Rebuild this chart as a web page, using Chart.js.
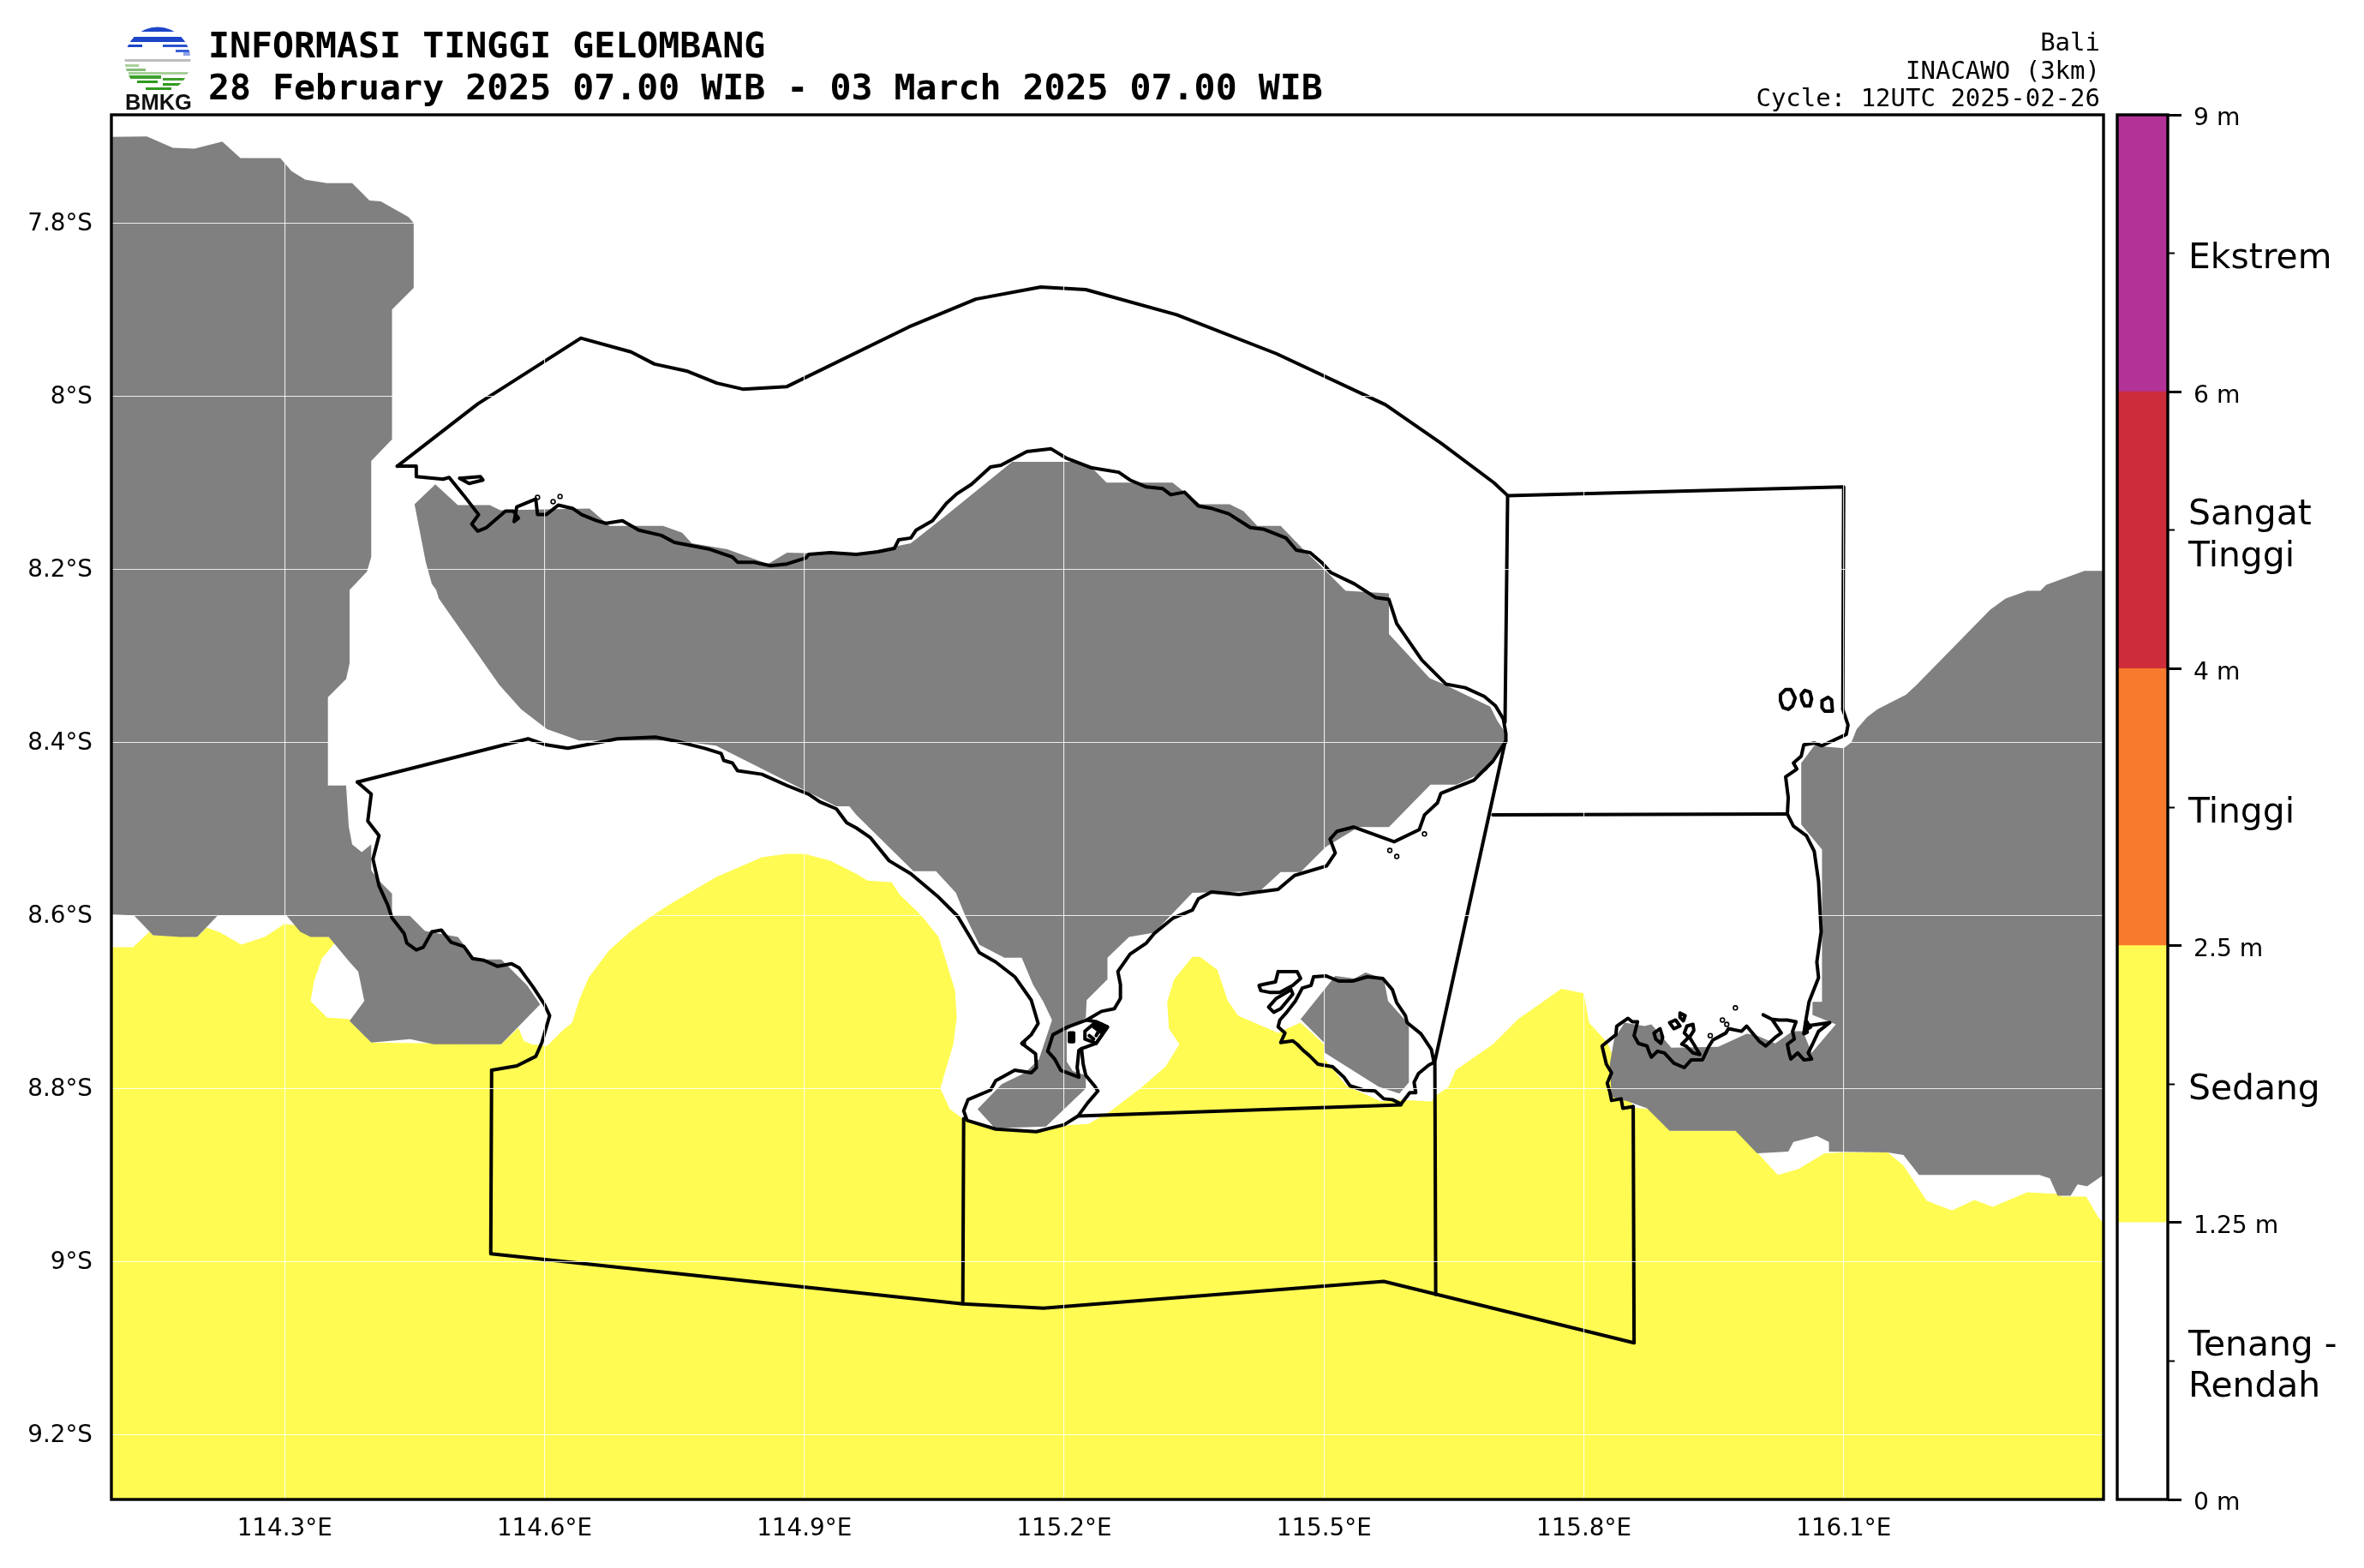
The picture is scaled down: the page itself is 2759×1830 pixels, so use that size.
<!DOCTYPE html>
<html>
<head>
<meta charset="utf-8">
<title>Informasi Tinggi Gelombang</title>
<script src="https://cdn.jsdelivr.net/npm/chart.js@4/dist/chart.umd.min.js"></script>
<style>
    html, body { margin: 0; padding: 0; background: #fff; }
    body { position: relative; width: 2759px; height: 1830px; overflow: hidden; }
    canvas { position: absolute; top: 0; }
    #mapChart { left: 0; }
    #scaleChart { left: 2459px; }
    .title { position: absolute; left: 243px; font: bold 41.55px "DejaVu Sans Mono", monospace; line-height: 48px; white-space: pre; color: #000; }
    .info { position: absolute; right: 308px; font: 29px "DejaVu Sans Mono", monospace; line-height: 32px; white-space: pre; color: #000; text-align: right; }
    #logo { position: absolute; left: 140px; top: 26px; }
</style>
</head>
<body>
<canvas id="mapChart" width="2759" height="1830"></canvas>
<canvas id="scaleChart" width="300" height="1830"></canvas>

<svg id="logo" width="90" height="106" viewBox="140 26 90 106">
    <defs><clipPath id="disc"><circle cx="184" cy="70" r="38.5"></circle></clipPath></defs>
    <g clip-path="url(#disc)">
        <rect x="140" y="31" width="90" height="6" fill="#1c45c8"></rect>
        <rect x="140" y="43" width="90" height="6" fill="#1c45c8"></rect>
        <rect x="148" y="52" width="18" height="3" fill="#1c45c8"></rect>
        <rect x="190" y="52" width="40" height="3" fill="#2a55d0"></rect>
        <rect x="205" y="58" width="20" height="3" fill="#3a62d8"></rect>
        <rect x="214" y="61" width="12" height="4" fill="#8fa3ea"></rect>
        <rect x="140" y="69" width="90" height="3" fill="#bdbdbd"></rect>
        <rect x="140" y="75" width="22" height="3" fill="#a9cf9c"></rect>
        <rect x="140" y="80" width="30" height="3" fill="#86bd78"></rect>
        <rect x="150" y="84" width="70" height="3" fill="#a9cf9c"></rect>
        <rect x="150" y="88" width="38" height="4" fill="#3ea02c"></rect>
        <rect x="190" y="91" width="30" height="3" fill="#3ea02c"></rect>
        <rect x="160" y="94" width="24" height="3" fill="#2f9a1e"></rect>
        <rect x="190" y="97" width="24" height="3" fill="#2f9a1e"></rect>
        <rect x="170" y="102" width="30" height="3" fill="#2f9a1e"></rect>
    </g>
    <text x="146" y="128" font-family="Liberation Sans, Arial, sans-serif" font-weight="bold" font-size="25.5" fill="#111">BMKG</text>
</svg>

<div class="title" style="top: 29px;">INFORMASI TINGGI GELOMBANG</div>
<div class="title" style="top: 78px;">28 February 2025 07.00 WIB - 03 March 2025 07.00 WIB</div>
<div class="info" style="top: 33px;">Bali</div>
<div class="info" style="top: 66px;">INACAWO (3km)</div>
<div class="info" style="top: 98px;">Cycle: 12UTC 2025-02-26</div>

<script>
// every pair below is [longitude in °E, latitude in °S]
const lonTicks = [114.3, 114.6, 114.9, 115.2, 115.5, 115.8, 116.1];
const latTicks = [7.8, 8, 8.2, 8.4, 8.6, 8.8, 9, 9.2];

const javaLand = [
    [114.1, 7.7005], [114.141, 7.7], [114.171, 7.713], [114.196, 7.714], [114.228, 7.706], [114.249, 7.725],
    [114.295, 7.725], [114.308, 7.74], [114.324, 7.75], [114.349, 7.754], [114.378, 7.754], [114.398, 7.774],
    [114.411, 7.775], [114.443, 7.793], [114.449, 7.8], [114.449, 7.875], [114.424, 7.9], [114.424, 8.05],
    [114.4, 8.075], [114.4, 8.186], [114.395, 8.203], [114.375, 8.224], [114.375, 8.309], [114.371, 8.327],
    [114.35, 8.348], [114.35, 8.45], [114.371, 8.45], [114.374, 8.497], [114.378, 8.518], [114.389, 8.527],
    [114.4, 8.518], [114.4, 8.548], [114.409, 8.56], [114.424, 8.575], [114.424, 8.6], [114.444, 8.6],
    [114.462, 8.618], [114.5, 8.625], [114.52, 8.651], [114.55, 8.651], [114.58, 8.681], [114.595, 8.703],
    [114.55, 8.749], [114.472, 8.749], [114.445, 8.743], [114.4, 8.747], [114.375, 8.722], [114.392, 8.699],
    [114.385, 8.665], [114.375, 8.654], [114.351, 8.625], [114.33, 8.625], [114.318, 8.619], [114.302, 8.6],
    [114.223, 8.6], [114.199, 8.625], [114.179, 8.625], [114.148, 8.623], [114.126, 8.6], [114.1, 8.599]
];

const baliLand = [
    [114.45, 8.125], [114.474, 8.102], [114.5, 8.126], [114.537, 8.126], [114.549, 8.132], [114.652, 8.13],
    [114.675, 8.15], [114.737, 8.15], [114.759, 8.158], [114.77, 8.17], [114.811, 8.177], [114.858, 8.194],
    [114.88, 8.181], [114.96, 8.183], [115.023, 8.17], [115.061, 8.14], [115.14, 8.076], [115.216, 8.076],
    [115.235, 8.086], [115.249, 8.1], [115.325, 8.1], [115.357, 8.125], [115.391, 8.125], [115.407, 8.133],
    [115.423, 8.15], [115.45, 8.15], [115.476, 8.177], [115.5, 8.2], [115.525, 8.225], [115.575, 8.228],
    [115.575, 8.275], [115.622, 8.326], [115.638, 8.333], [115.692, 8.359], [115.7, 8.375], [115.71, 8.39],
    [115.71, 8.4], [115.7, 8.413], [115.688, 8.433], [115.653, 8.449], [115.623, 8.449], [115.575, 8.498],
    [115.54, 8.498], [115.502, 8.521], [115.473, 8.55], [115.45, 8.55], [115.426, 8.572], [115.348, 8.574],
    [115.304, 8.62], [115.275, 8.625], [115.25, 8.649], [115.25, 8.674], [115.226, 8.698], [115.225, 8.718],
    [115.203, 8.733], [115.203, 8.769], [115.21, 8.78], [115.225, 8.785], [115.225, 8.8], [115.179, 8.844],
    [115.12, 8.846], [115.1, 8.824], [115.128, 8.795], [115.155, 8.782], [115.171, 8.766], [115.186, 8.721],
    [115.176, 8.7], [115.164, 8.68], [115.151, 8.649], [115.131, 8.649], [115.102, 8.634], [115.086, 8.601],
    [115.075, 8.574], [115.052, 8.549], [115.026, 8.549], [114.96, 8.484], [114.952, 8.474], [114.937, 8.474],
    [114.798, 8.404], [114.75, 8.398], [114.64, 8.398], [114.603, 8.385], [114.573, 8.362], [114.548, 8.334],
    [114.478, 8.234], [114.475, 8.224], [114.47, 8.217], [114.463, 8.192]
];

const penidaLand = [
    [115.473, 8.72], [115.513, 8.67], [115.535, 8.673], [115.548, 8.666], [115.569, 8.673], [115.574, 8.699],
    [115.598, 8.726], [115.598, 8.793], [115.587, 8.806], [115.563, 8.798], [115.501, 8.759], [115.5, 8.747]
];

const lombokLand = [
    [116.4, 8.202], [116.378, 8.202], [116.334, 8.218], [116.327, 8.225], [116.312, 8.225], [116.287, 8.234],
    [116.269, 8.247], [116.184, 8.334], [116.172, 8.345], [116.139, 8.362], [116.127, 8.371], [116.115, 8.385],
    [116.109, 8.4], [116.1, 8.407], [116.066, 8.404], [116.051, 8.424], [116.051, 8.495], [116.075, 8.524],
    [116.075, 8.7], [116.064, 8.7], [116.064, 8.715], [116.091, 8.726], [116.063, 8.759], [116.053, 8.734],
    [116.041, 8.734], [116.021, 8.748], [115.998, 8.738], [115.988, 8.737], [115.955, 8.752], [115.901, 8.753],
    [115.878, 8.726], [115.87, 8.728], [115.847, 8.724], [115.835, 8.743], [115.83, 8.772], [115.832, 8.81],
    [115.851, 8.815], [115.873, 8.823], [115.899, 8.849], [115.975, 8.849], [116.0, 8.875], [116.036, 8.873],
    [116.042, 8.862], [116.069, 8.855], [116.083, 8.862], [116.083, 8.873], [116.151, 8.874], [116.169, 8.877],
    [116.187, 8.9], [116.326, 8.9], [116.338, 8.904], [116.347, 8.924], [116.362, 8.924], [116.37, 8.911],
    [116.381, 8.913], [116.4, 8.9]
];

const mediumWaves = [
    [114.1, 8.637], [114.125, 8.637], [114.144, 8.619], [114.148, 8.623], [114.199, 8.625], [114.21, 8.614],
    [114.226, 8.62], [114.25, 8.634], [114.277, 8.625], [114.3, 8.61], [114.315, 8.612], [114.33, 8.623],
    [114.351, 8.625], [114.358, 8.632], [114.343, 8.65], [114.334, 8.676], [114.33, 8.699], [114.349, 8.718],
    [114.375, 8.72], [114.4, 8.747], [114.55, 8.749], [114.57, 8.73], [114.576, 8.745], [114.585, 8.749],
    [114.603, 8.751], [114.62, 8.734], [114.632, 8.724], [114.64, 8.698], [114.651, 8.672], [114.675, 8.64],
    [114.7, 8.618], [114.725, 8.6], [114.747, 8.586], [114.798, 8.556], [114.851, 8.533], [114.88, 8.529],
    [114.9, 8.529], [114.93, 8.537], [114.96, 8.552], [114.973, 8.56], [115.001, 8.562], [115.01, 8.576],
    [115.035, 8.6], [115.055, 8.625], [115.064, 8.654], [115.074, 8.687], [115.076, 8.718], [115.072, 8.749],
    [115.064, 8.776], [115.057, 8.8], [115.068, 8.824], [115.083, 8.835], [115.12, 8.848], [115.168, 8.849],
    [115.181, 8.845], [115.21, 8.842], [115.228, 8.841], [115.254, 8.826], [115.288, 8.8], [115.317, 8.775],
    [115.333, 8.749], [115.321, 8.731], [115.319, 8.7], [115.327, 8.674], [115.348, 8.648], [115.357, 8.648],
    [115.377, 8.663], [115.389, 8.699], [115.401, 8.716], [115.447, 8.736], [115.455, 8.732], [115.473, 8.724],
    [115.5, 8.749], [115.5, 8.765], [115.526, 8.797], [115.566, 8.815], [115.586, 8.813], [115.624, 8.815],
    [115.63, 8.808], [115.644, 8.798], [115.652, 8.779], [115.695, 8.749], [115.724, 8.72], [115.774, 8.685],
    [115.8, 8.69], [115.806, 8.724], [115.827, 8.747], [115.85, 8.8], [115.857, 8.822], [115.875, 8.824],
    [115.9, 8.849], [115.977, 8.849], [116.024, 8.9], [116.048, 8.893], [116.078, 8.875], [116.1, 8.874],
    [116.151, 8.874], [116.169, 8.889], [116.196, 8.93], [116.225, 8.941], [116.251, 8.929], [116.272, 8.937],
    [116.312, 8.92], [116.347, 8.922], [116.352, 8.925], [116.362, 8.925], [116.38, 8.925], [116.394, 8.949],
    [116.4, 8.956], [116.4, 9.275], [114.1, 9.275]
];

const northZone = [
    [114.43, 8.081], [114.523, 8.009], [114.642, 7.933], [114.7, 7.949], [114.727, 7.963], [114.764, 7.971],
    [114.799, 7.985], [114.829, 7.992], [114.88, 7.989], [115.021, 7.92], [115.098, 7.888], [115.173, 7.874],
    [115.225, 7.877], [115.33, 7.906], [115.445, 7.951], [115.571, 8.01], [115.636, 8.055], [115.696, 8.1],
    [115.712, 8.115], [116.1, 8.105], [116.099, 8.362]
];

const northCoast = [
    [114.43, 8.081], [114.452, 8.081], [114.452, 8.093], [114.483, 8.096], [114.49, 8.094], [114.507, 8.115],
    [114.524, 8.137], [114.516, 8.148], [114.523, 8.156], [114.533, 8.152], [114.555, 8.133], [114.564, 8.133],
    [114.57, 8.141], [114.565, 8.145], [114.568, 8.128], [114.59, 8.119], [114.592, 8.137], [114.602, 8.137],
    [114.616, 8.126], [114.633, 8.13], [114.643, 8.137], [114.66, 8.144], [114.671, 8.147], [114.69, 8.144],
    [114.709, 8.155], [114.735, 8.161], [114.75, 8.169], [114.791, 8.177], [114.817, 8.186], [114.823, 8.192],
    [114.842, 8.192], [114.861, 8.196], [114.88, 8.194], [114.902, 8.187], [114.905, 8.183], [114.93, 8.181],
    [114.96, 8.183], [114.985, 8.18], [115.004, 8.176], [115.009, 8.166], [115.023, 8.164], [115.029, 8.155],
    [115.048, 8.144], [115.064, 8.124], [115.076, 8.113], [115.093, 8.102], [115.115, 8.082], [115.127, 8.08],
    [115.157, 8.064], [115.185, 8.061], [115.203, 8.072], [115.232, 8.083], [115.263, 8.088], [115.276, 8.097],
    [115.295, 8.105], [115.314, 8.107], [115.323, 8.114], [115.339, 8.111], [115.355, 8.127], [115.371, 8.13],
    [115.39, 8.136], [115.415, 8.152], [115.431, 8.154], [115.456, 8.164], [115.468, 8.178], [115.484, 8.181],
    [115.497, 8.192], [115.508, 8.204], [115.535, 8.217], [115.56, 8.233], [115.575, 8.235], [115.584, 8.263],
    [115.613, 8.305], [115.641, 8.333], [115.663, 8.337], [115.685, 8.347], [115.698, 8.358], [115.707, 8.373],
    [115.71, 8.39], [115.71, 8.4]
];

const eastCoastBali = [
    [115.709, 8.4], [115.695, 8.422], [115.673, 8.444], [115.635, 8.459], [115.631, 8.47], [115.616, 8.484],
    [115.61, 8.501], [115.581, 8.515], [115.534, 8.498], [115.515, 8.503], [115.507, 8.512], [115.513, 8.528],
    [115.503, 8.543], [115.466, 8.554], [115.447, 8.57], [115.402, 8.576], [115.37, 8.573], [115.355, 8.581],
    [115.348, 8.594], [115.326, 8.603], [115.304, 8.621], [115.295, 8.632], [115.276, 8.645], [115.262, 8.665],
    [115.265, 8.68], [115.265, 8.696], [115.258, 8.708], [115.243, 8.711], [115.226, 8.721], [115.237, 8.723],
    [115.25, 8.729], [115.237, 8.748], [115.22, 8.754], [115.222, 8.772], [115.225, 8.785], [115.235, 8.797],
    [115.239, 8.803], [115.227, 8.817], [115.216, 8.832], [115.2, 8.842], [115.168, 8.85], [115.121, 8.847],
    [115.088, 8.837], [115.084, 8.826], [115.089, 8.813], [115.115, 8.802], [115.121, 8.791], [115.143, 8.779],
    [115.162, 8.782], [115.168, 8.776], [115.167, 8.76], [115.151, 8.748], [115.162, 8.738], [115.17, 8.725],
    [115.162, 8.698], [115.143, 8.671], [115.121, 8.654], [115.102, 8.643], [115.089, 8.621], [115.077, 8.601],
    [115.055, 8.579], [115.023, 8.552], [114.998, 8.537], [114.976, 8.51], [114.96, 8.499], [114.949, 8.493],
    [114.937, 8.477], [114.918, 8.469], [114.905, 8.46], [114.88, 8.45], [114.851, 8.437], [114.823, 8.433],
    [114.817, 8.424], [114.807, 8.421], [114.804, 8.413], [114.785, 8.407], [114.753, 8.399], [114.728, 8.394],
    [114.684, 8.396], [114.659, 8.401], [114.627, 8.407], [114.602, 8.403], [114.581, 8.396], [114.384, 8.446]
];

const benoaBay = [
    [115.226, 8.721], [115.204, 8.729], [115.187, 8.738], [115.181, 8.757], [115.189, 8.766], [115.196, 8.779],
    [115.217, 8.787], [115.215, 8.776], [115.217, 8.756], [115.22, 8.754]
];
const benoaFlatA = [[115.224, 8.734], [115.237, 8.723], [115.25, 8.729], [115.237, 8.748], [115.224, 8.743], [115.224, 8.734]];
const benoaFlatB = [[115.244, 8.726], [115.237, 8.739]];
const benoaFlatC = [[115.229, 8.739], [115.234, 8.743]];
const benoaFlatD = [[115.206, 8.736], [115.211, 8.736], [115.211, 8.746], [115.206, 8.746], [115.206, 8.736]];
const benoaMud = [[115.237, 8.723], [115.25, 8.729], [115.243, 8.738], [115.232, 8.73]];
const lombokMud = [[116.054, 8.737], [116.058, 8.72], [116.064, 8.73]];

const javaCoast = [
    [114.384, 8.446], [114.4, 8.46], [114.396, 8.491], [114.409, 8.508], [114.402, 8.535], [114.409, 8.566],
    [114.419, 8.588], [114.424, 8.603], [114.438, 8.621], [114.441, 8.632], [114.452, 8.64], [114.46, 8.637],
    [114.47, 8.619], [114.481, 8.617], [114.492, 8.631], [114.507, 8.636], [114.517, 8.65], [114.53, 8.652],
    [114.546, 8.659], [114.562, 8.656], [114.571, 8.661], [114.587, 8.683], [114.6, 8.703], [114.606, 8.716],
    [114.597, 8.747], [114.59, 8.763], [114.568, 8.774], [114.539, 8.779]
];

const southZone = [
    [114.539, 8.779], [114.538, 8.991], [115.083, 9.049], [115.176, 9.054], [115.569, 9.023], [115.858, 9.094],
    [115.857, 8.821]
];

const centreZone = [[115.084, 8.835], [115.083, 9.049]];
const eastDivide = [[115.629, 9.038], [115.628, 8.769], [115.709, 8.4]];
const baliShelf = [[115.216, 8.832], [115.589, 8.819]];
const straitDivide = [[115.695, 8.484], [116.035, 8.483]];
const baliEastDivide = [[115.712, 8.115], [115.709, 8.377]];

const lombokCoast = [
    [116.099, 8.362], [116.105, 8.38], [116.103, 8.391], [116.075, 8.404], [116.066, 8.401], [116.054, 8.403],
    [116.051, 8.416], [116.042, 8.424], [116.046, 8.431], [116.033, 8.44], [116.036, 8.464], [116.035, 8.483],
    [116.042, 8.497], [116.057, 8.508], [116.066, 8.526], [116.071, 8.561], [116.074, 8.619], [116.069, 8.654],
    [116.071, 8.672], [116.06, 8.7], [116.056, 8.723], [116.054, 8.737], [116.058, 8.735], [116.056, 8.728],
    [116.084, 8.724], [116.071, 8.734], [116.064, 8.749], [116.059, 8.759], [116.063, 8.766], [116.054, 8.767],
    [116.047, 8.759], [116.039, 8.766], [116.037, 8.759], [116.035, 8.749], [116.043, 8.743], [116.041, 8.734],
    [116.045, 8.723], [116.035, 8.721], [116.025, 8.721], [116.017, 8.72], [116.007, 8.715], [116.017, 8.72],
    [116.028, 8.736], [116.021, 8.741], [116.01, 8.751], [116.003, 8.746], [115.988, 8.728], [115.982, 8.734],
    [115.967, 8.731], [115.964, 8.736], [115.949, 8.744], [115.944, 8.752], [115.937, 8.767], [115.924, 8.767],
    [115.916, 8.776], [115.904, 8.771], [115.893, 8.759], [115.885, 8.757], [115.878, 8.764], [115.875, 8.757],
    [115.873, 8.751], [115.863, 8.748], [115.858, 8.739], [115.862, 8.723], [115.856, 8.723], [115.851, 8.719],
    [115.838, 8.728], [115.837, 8.738], [115.821, 8.751], [115.826, 8.772], [115.832, 8.782], [115.827, 8.794],
    [115.83, 8.804], [115.832, 8.814], [115.843, 8.812], [115.845, 8.823], [115.857, 8.821]
];

const penidaCoast = [
    [115.488, 8.671], [115.502, 8.67], [115.517, 8.676], [115.533, 8.676], [115.55, 8.671], [115.568, 8.673],
    [115.579, 8.686], [115.584, 8.701], [115.594, 8.716], [115.596, 8.724], [115.612, 8.737], [115.624, 8.755],
    [115.627, 8.77], [115.621, 8.773], [115.609, 8.783], [115.604, 8.793], [115.606, 8.805], [115.599, 8.805],
    [115.589, 8.818], [115.579, 8.813], [115.569, 8.812], [115.559, 8.803], [115.546, 8.802], [115.53, 8.797],
    [115.523, 8.787], [115.51, 8.775], [115.493, 8.772], [115.483, 8.762], [115.477, 8.757], [115.469, 8.749],
    [115.464, 8.745], [115.45, 8.747], [115.455, 8.736], [115.447, 8.729], [115.449, 8.721], [115.457, 8.712],
    [115.467, 8.699], [115.475, 8.684], [115.485, 8.681], [115.488, 8.671]
];

const lembonganIsland = [
    [115.447, 8.665], [115.469, 8.665], [115.473, 8.673], [115.464, 8.681], [115.449, 8.689], [115.437, 8.689],
    [115.427, 8.687], [115.425, 8.681], [115.434, 8.679], [115.444, 8.677], [115.447, 8.665]
];
const ceninganIsland = [[115.462, 8.686], [115.464, 8.691], [115.45, 8.708], [115.442, 8.712], [115.436, 8.706], [115.445, 8.696], [115.462, 8.686]];
const menjanganIsland = [[114.502, 8.095], [114.526, 8.093], [114.529, 8.097], [114.513, 8.101], [114.502, 8.095]];
const giliTrawangan = [
    [116.027, 8.345], [116.033, 8.339], [116.039, 8.339], [116.044, 8.349], [116.041, 8.358], [116.036, 8.362],
    [116.03, 8.36], [116.027, 8.352], [116.027, 8.345]
];
const giliMeno = [
    [116.051, 8.345], [116.055, 8.34], [116.061, 8.342], [116.063, 8.35], [116.061, 8.358], [116.055, 8.358],
    [116.052, 8.352], [116.051, 8.345]
];
const giliAir = [[116.075, 8.352], [116.082, 8.348], [116.086, 8.351], [116.087, 8.364], [116.078, 8.364], [116.075, 8.36], [116.075, 8.352]];
const sekotongIslandA = [[115.881, 8.736], [115.888, 8.731], [115.891, 8.741], [115.889, 8.748], [115.883, 8.743], [115.881, 8.736]];
const sekotongIslandB = [[115.899, 8.724], [115.906, 8.721], [115.911, 8.728], [115.904, 8.731], [115.899, 8.724]];
const sekotongIslandC = [[115.911, 8.713], [115.917, 8.716], [115.915, 8.722], [115.911, 8.718], [115.911, 8.713]];
const sekotongIslandD = [
    [115.919, 8.728], [115.926, 8.726], [115.927, 8.733], [115.922, 8.741], [115.927, 8.749], [115.934, 8.761],
    [115.926, 8.759], [115.918, 8.751], [115.913, 8.749], [115.921, 8.741], [115.916, 8.736], [115.919, 8.728]
];

const tinyIslands = [
    [115.576, 8.525], [115.584, 8.532], [115.616, 8.506], [114.592, 8.117], [114.61, 8.122], [114.618, 8.116],
    [115.975, 8.707], [115.96, 8.721], [115.965, 8.726], [115.946, 8.739], [115.153, 8.748]
];

// colour bar: five equal bands between the height breaks
const levelLabels = ['0 m', '1.25 m', '2.5 m', '4 m', '6 m', '9 m'];
const levelNames = [['Tenang -', 'Rendah'], 'Sedang', 'Tinggi', ['Sangat', 'Tinggi'], 'Ekstrem'];
const levelColors = ['#ffffff', '#fffb52', '#f87a2d', '#cd2c3a', '#b23298'];
const levelBands = [[0, 1], [1, 2], [2, 3], [3, 4], [4, 5]];
const levelEdges = [0, 1, 2, 3, 4, 5];
const levelMiddles = [0.5, 1.5, 2.5, 3.5, 4.5];

const landColor = '#808080';
const waveColor = '#fffb52';

function toPoints(pairs) {
    return pairs.map(p => ({ x: p[0], y: p[1] }));
}

function area(pairs, color, order) {
    return {
        data: toPoints(pairs.concat([pairs[0]])),
        showLine: true,
        fill: 'shape',
        backgroundColor: color,
        borderWidth: 0,
        pointRadius: 0,
        order: order
    };
}

function outline(pairs) {
    return {
        data: toPoints(pairs),
        showLine: true,
        fill: false,
        borderColor: '#000',
        borderWidth: 4,
        borderJoinStyle: 'round',
        borderCapStyle: 'round',
        pointRadius: 0,
        order: 1
    };
}

const frame = {
    id: 'frame',
    afterDraw(chart) {
        const a = chart.chartArea;
        const ctx = chart.ctx;
        ctx.save();
        ctx.strokeStyle = '#000';
        ctx.lineWidth = 3.4;
        ctx.strokeRect(a.left, a.top, a.right - a.left, a.bottom - a.top);
        ctx.restore();
    }
};

// the labels are clipped to the axis box, so both bar axes share the space right of the bar
const widenAxes = {
    id: 'widenAxes',
    afterLayout(chart) {
        chart.scales.y.right = chart.width;
        chart.scales.names.right = chart.width;
    }
};

const outlines = [
    northZone, northCoast, eastCoastBali, benoaBay, benoaFlatA, benoaFlatB, benoaFlatC, benoaFlatD, javaCoast,
    southZone, centreZone, eastDivide, baliShelf, straitDivide, baliEastDivide, lombokCoast, penidaCoast,
    lembonganIsland, ceninganIsland, menjanganIsland, giliTrawangan, giliMeno, giliAir,
    sekotongIslandA, sekotongIslandB, sekotongIslandC, sekotongIslandD
];

new Chart(document.getElementById('mapChart'), {
    type: 'scatter',
    data: {
        datasets: [
            area(mediumWaves, waveColor, 5),
            area(javaLand, landColor, 3),
            area(baliLand, landColor, 3),
            area(penidaLand, landColor, 3),
            area(lombokLand, landColor, 3),
            area(benoaMud, '#000', 1),
            area(benoaFlatD, '#000', 1),
            area(lombokMud, '#000', 1),
            ...outlines.map(outline),
            {
                data: toPoints(tinyIslands),
                pointRadius: 2.4,
                pointBackgroundColor: '#fff',
                pointBorderColor: '#000',
                pointBorderWidth: 1.6,
                order: 1
            }
        ]
    },
    options: {
        responsive: false,
        devicePixelRatio: 1,
        animation: false,
        layout: { padding: { top: 134, right: 304, left: 0, bottom: 0 } },
        plugins: { legend: { display: false }, tooltip: { enabled: false } },
        scales: {
            x: {
                type: 'linear',
                min: 114.1,
                max: 116.4,
                afterBuildTicks: axis => { axis.ticks = lonTicks.map(v => ({ value: v })); },
                afterFit: axis => { axis.height = 80; },
                grid: { color: 'rgba(255,255,255,0.85)', lineWidth: 1.1, drawTicks: false, z: 1 },
                border: { display: false },
                ticks: {
                    callback: v => v + '°E',
                    color: '#000',
                    padding: 18,
                    maxRotation: 0,
                    autoSkip: false,
                    font: { family: 'DejaVu Sans', size: 27.8 }
                }
            },
            y: {
                type: 'linear',
                reverse: true,
                min: 7.675,
                max: 9.275,
                afterBuildTicks: axis => { axis.ticks = latTicks.map(v => ({ value: v })); },
                afterFit: axis => { axis.width = 130; },
                grid: { color: 'rgba(255,255,255,0.85)', lineWidth: 1.1, drawTicks: false, z: 1 },
                border: { display: false },
                ticks: {
                    callback: v => v + '°S',
                    color: '#000',
                    padding: 22,
                    labelOffset: 2,
                    autoSkip: false,
                    font: { family: 'DejaVu Sans', size: 27.8 }
                }
            }
        }
    },
    plugins: [frame]
});

new Chart(document.getElementById('scaleChart'), {
    type: 'bar',
    data: {
        labels: ['level'],
        datasets: levelBands.map((band, i) => ({
            data: [band],
            backgroundColor: levelColors[i],
            borderWidth: 0,
            grouped: false,
            barPercentage: 1,
            categoryPercentage: 1,
            yAxisID: 'y'
        }))
    },
    options: {
        responsive: false,
        devicePixelRatio: 1,
        animation: false,
        layout: { padding: { top: 134, right: 229, left: 12, bottom: 80 } },
        plugins: { legend: { display: false }, tooltip: { enabled: false } },
        scales: {
            x: { display: false },
            y: {
                position: 'right',
                min: 0,
                max: 5,
                afterBuildTicks: axis => { axis.ticks = levelEdges.map(v => ({ value: v })); },
                afterFit: axis => { axis.width = 0; },
                grid: { drawOnChartArea: false, tickLength: 16, tickWidth: 3, tickColor: '#000' },
                border: { display: false },
                ticks: {
                    callback: v => levelLabels[v],
                    color: '#000',
                    padding: 14,
                    labelOffset: 5,
                    autoSkip: false,
                    font: { family: 'DejaVu Sans', size: 28.2 }
                }
            },
            names: {
                position: 'right',
                min: 0,
                max: 5,
                afterBuildTicks: axis => { axis.ticks = levelMiddles.map(v => ({ value: v })); },
                afterFit: axis => { axis.width = 0; },
                grid: { drawOnChartArea: false, tickLength: 8, tickWidth: 2, tickColor: '#000' },
                border: { display: false },
                ticks: {
                    callback: v => levelNames[Math.floor(v)],
                    color: '#000',
                    padding: 16,
                    labelOffset: 7,
                    autoSkip: false,
                    font: { family: 'DejaVu Sans', size: 40.8 }
                }
            }
        }
    },
    plugins: [frame, widenAxes]
});
</script>
</body>
</html>
